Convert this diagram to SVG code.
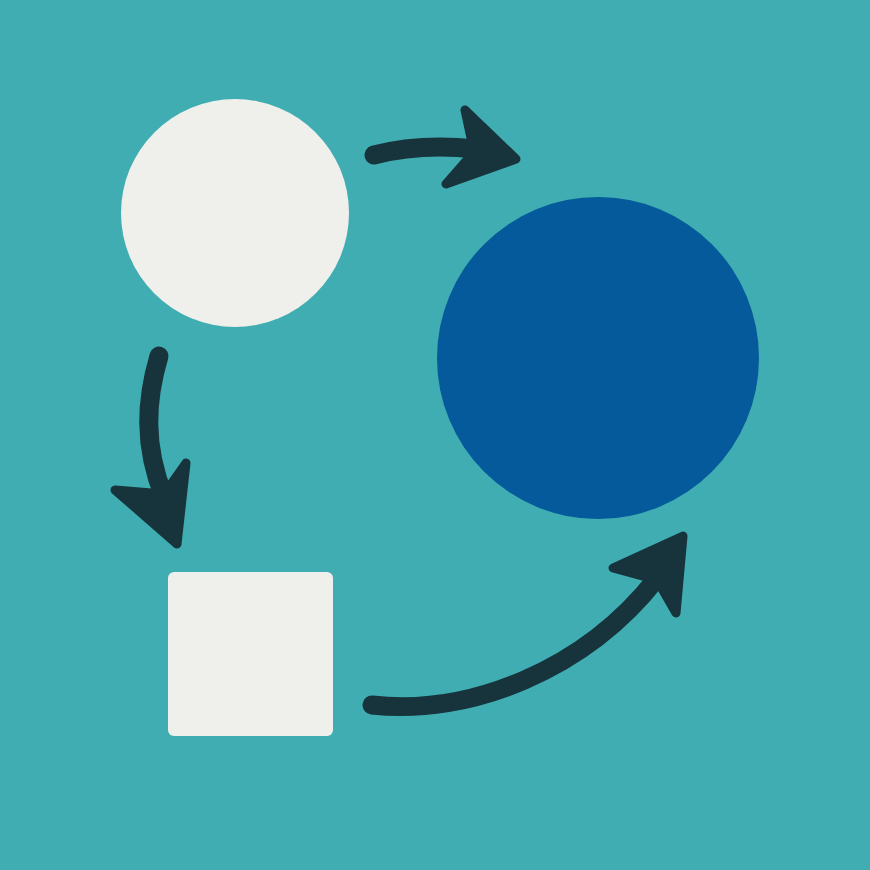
<svg xmlns="http://www.w3.org/2000/svg" width="870" height="870" viewBox="0 0 870 870">
<style>
.shaft{fill:none;stroke:#17333b;stroke-width:19;stroke-linecap:round}
.head{fill:#17333b;stroke:#17333b;stroke-width:9;stroke-linejoin:round}
</style>
<rect width="870" height="870" fill="#3fadb1"/>
<g id="node-white-circle"><circle cx="235" cy="213" r="114" fill="#efefeb"/></g>
<g id="node-blue-circle"><circle cx="598" cy="358" r="161" fill="#045a9a"/></g>
<g id="node-square"><rect x="168" y="572" width="165" height="164" rx="6" fill="#efefeb"/></g>
<g id="connectors">
<path class="shaft" d="M374,155 Q420,143 476,149"/>
<polygon class="head" points="465,110 516,159 446,184 474,152"/>
<path class="shaft" d="M159,356 C146,400 143,445 164,497"/>
<polygon class="head" points="115,490 164,494 186,463 177,544"/>
<path class="shaft" d="M372,705 C470,716 585,670 657,578"/>
<polygon class="head" points="613,568 683,536 676,613 657,580"/>
</g>
</svg>
